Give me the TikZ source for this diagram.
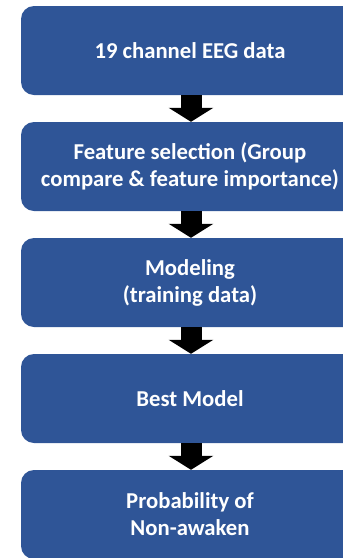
\documentclass[tikz,border=0pt]{standalone}
\usepackage{fontspec}
\setmainfont{Carlito}
\usetikzlibrary{arrows.meta}
\definecolor{boxblue}{RGB}{47,85,151}
\tikzset{
  stepbox/.style={fill=boxblue, draw=none, rounded corners=13pt, minimum width=338pt, minimum height=89pt,
    text=white, align=center, font=\fontsize{22.7pt}{27pt}\selectfont\bfseries, inner sep=0pt},
  flowarrow/.style={draw=black, line width=21pt, -{Triangle[width=44pt,length=14pt]}}
}
\begin{document}
\begin{tikzpicture}[x=1pt,y=-1pt]
\useasboundingbox (0,0) rectangle (343,558);
\clip (0,0) rectangle (343,558);
\node[stepbox] (b1) at (190,50.5) {19 channel EEG data};
\node[stepbox] (b2) at (190,166.5) {Feature selection (Group\\compare \& feature importance)};
\node[stepbox] (b3) at (190,282.5) {Modeling\\(training data)};
\node[stepbox] (b4) at (190,398.5) {Best Model};
\node[stepbox] (b5) at (190,514.5) {Probability of\\Non-awaken};
\coordinate (ax) at (191,0);
\draw[flowarrow] (b1.south -| ax) -- (b2.north -| ax);
\draw[flowarrow] (b2.south -| ax) -- (b3.north -| ax);
\draw[flowarrow] (b3.south -| ax) -- (b4.north -| ax);
\draw[flowarrow] (b4.south -| ax) -- (b5.north -| ax);
\end{tikzpicture}
\end{document}
